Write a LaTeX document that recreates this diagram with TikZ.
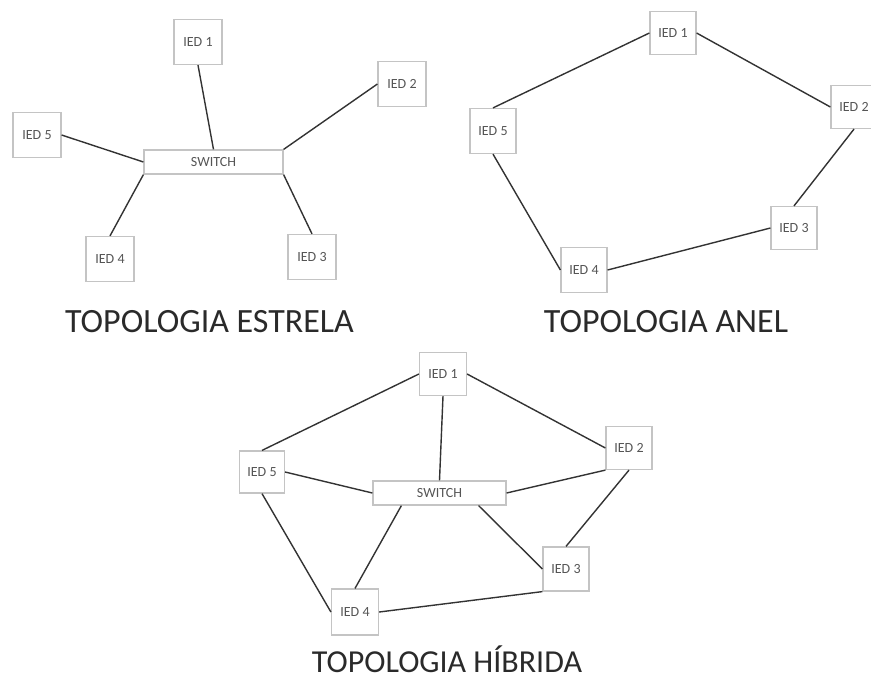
\documentclass[tikz,border=0pt]{standalone}
\usepackage{fontspec}
\setmainfont{Carlito}
\definecolor{boxline}{HTML}{C4C4C4}
\definecolor{boxtext}{HTML}{555555}
\definecolor{wire}{HTML}{333333}
\definecolor{titletext}{HTML}{2A2A2A}
\begin{document}
\begin{tikzpicture}[x=1pt,y=-1pt,
  ied/.style={draw=boxline,line width=1.2pt,fill=white,minimum width=48pt,minimum height=45pt,inner sep=0pt,
    text=boxtext,font=\fontsize{14}{16}\selectfont},
  swbox/.style={draw=boxline,line width=1.2pt,fill=white,minimum height=24pt,inner sep=0pt,
    text=boxtext,font=\fontsize{14}{16}\selectfont},
  wirestyle/.style={draw=wire,line width=1.4pt},
  ttl/.style={anchor=base,text=titletext,font=\fontsize{34}{40}\selectfont,inner sep=0pt,text depth=0pt}]
\useasboundingbox[fill=white] (0,0) rectangle (871,681);

% ---------- Star ----------
\node[ied] (e1) at (198,42) {IED 1};
\node[ied] (e2) at (402,84) {IED 2};
\node[ied] (e5) at (37,135) {IED 5};
\node[swbox,minimum width=139pt] (sw) at (213.5,162) {SWITCH};
\node[ied] (e4) at (110,259) {IED 4};
\node[ied] (e3) at (312,257) {IED 3};
\draw[wirestyle] (e1.south) -- (sw.north);
\draw[wirestyle] (e2.west) -- (sw.north east);
\draw[wirestyle] (e5.east) -- (sw.west);
\draw[wirestyle] (e4.north) -- (sw.south west);
\draw[wirestyle] (e3.north) -- (sw.south east);
\node[ttl] (t1) at (209.5,332) {TOPOLOGIA ESTRELA};

% ---------- Ring ----------
\node[ied,minimum width=46pt,minimum height=43pt] (r1) at (673,33) {IED 1};
\node[ied,minimum width=46pt,minimum height=43pt] (r2) at (854,107) {IED 2};
\node[ied,minimum width=46pt,minimum height=45pt] (r5) at (493,131) {IED 5};
\node[ied,minimum width=46pt,minimum height=43pt] (r3) at (794,228) {IED 3};
\node[ied,minimum width=46pt,minimum height=45pt] (r4) at (584,270) {IED 4};
\draw[wirestyle] (r1.west) -- (r5.north);
\draw[wirestyle] (r1.east) -- (r2.west);
\draw[wirestyle] (r2.south) -- (r3.north);
\draw[wirestyle] (r3.west) -- (r4.east);
\draw[wirestyle] (r5.south) -- (r4.west);
\node[ttl] (t2) at (666,332) {TOPOLOGIA ANEL};

% ---------- Hybrid ----------
\node[ied,minimum width=47pt,minimum height=43pt] (h1) at (443,374) {IED 1};
\node[ied,minimum width=46pt,minimum height=43pt] (h2) at (629,448) {IED 2};
\node[ied,minimum width=45pt,minimum height=42pt] (h5) at (262,472) {IED 5};
\node[swbox,minimum width=133pt] (hs) at (439.5,493) {SWITCH};
\node[ied,minimum width=46pt,minimum height=44pt] (h3) at (566,569) {IED 3};
\node[ied,minimum width=47pt,minimum height=46pt] (h4) at (355,612) {IED 4};
\draw[wirestyle] (h1.west) -- (h5.north);
\draw[wirestyle] (h1.east) -- (h2.west);
\draw[wirestyle] (h1.south) -- (hs.north);
\draw[wirestyle] (h5.east) -- (hs.west);
\draw[wirestyle] (hs.east) -- (h2.south west);
\draw[wirestyle] (h2.south) -- (h3.north);
\draw[wirestyle] ([xshift=29pt]hs.south west) -- (h4.north);
\draw[wirestyle] ([xshift=-28pt]hs.south east) -- (h3.west);
\draw[wirestyle] (h5.south) -- (h4.west);
\draw[wirestyle] (h4.east) -- (h3.south west);
\node[ttl,font=\fontsize{32}{38}\selectfont] (t3) at (447,672) {TOPOLOGIA HÍBRIDA};
\end{tikzpicture}
\end{document}
